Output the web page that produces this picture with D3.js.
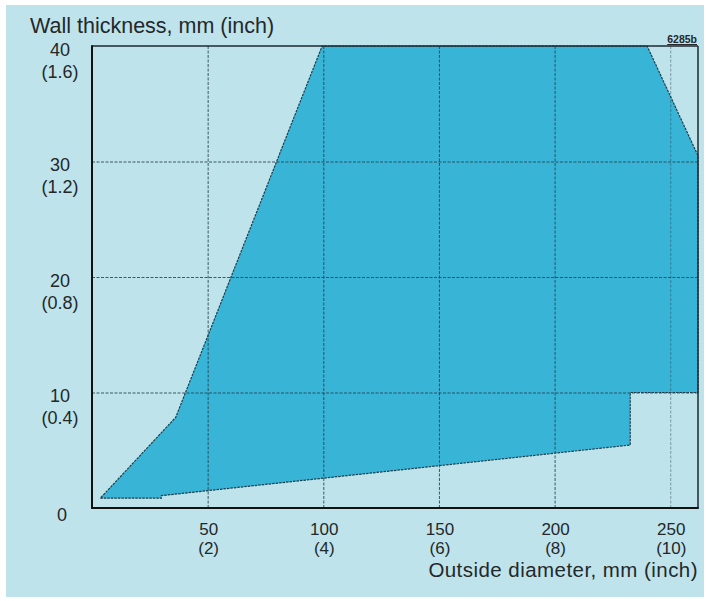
<!DOCTYPE html>
<html>
<head>
<meta charset="utf-8">
<script src="https://cdn.jsdelivr.net/npm/d3@7"></script>
<style>
  html, body { margin: 0; padding: 0; background: #ffffff; }
  svg { display: block; }
  text { font-family: "Liberation Sans", Arial, Helvetica, sans-serif; fill: #23282a; }
</style>
</head>
<body>
<svg id="chart" width="710" height="601"></svg>
<script>
// ---- data ----
const xTicks = [50, 100, 150, 200, 250];
const xTickInch = ["(2)", "(4)", "(6)", "(8)", "(10)"];
const yTicks = [10, 20, 30, 40];
const yTickInch = ["(0.4)", "(0.8)", "(1.2)", "(1.6)"];
// outline of the feasible region: outside diameter (mm) vs wall thickness (mm)
const regionDiameter = [3.6, 30, 30, 232.7, 232.7, 262, 262, 240, 99.5, 36.2];
const regionWall     = [0.85, 0.85, 1.07, 5.45, 10.0, 10.0, 30.5, 40, 40, 7.85];

const xLabel = "Outside diameter, mm (inch)";
const yLabel = "Wall thickness, mm (inch)";
const figCode = "6285b";

// ---- layout ----
const svg = d3.select("#chart");
const L = 92, R = 698, T = 46, B = 508;
const x = d3.scaleLinear().domain([0, 262]).range([L, R]);
const y = d3.scaleLinear().domain([0, 40]).range([B, T]);

// panel
svg.append("rect").attr("x", 6).attr("y", 5).attr("width", 698).attr("height", 592)
  .attr("fill", "#bfe3eb");

// region
const pts = regionDiameter.map((d, i) => [x(d), y(regionWall[i])]);
svg.append("path")
  .attr("d", d3.line()(pts) + "Z")
  .attr("fill", "#38b4d7")
  .attr("stroke", "#1e3f4c")
  .attr("stroke-width", 1.2)
  .attr("stroke-dasharray", "2.5,1");

// grid via axes
const gx = svg.append("g").attr("transform", `translate(0,${B})`)
  .call(d3.axisBottom(x).tickValues(xTicks).tickSize(-(B - T)).tickFormat(""));
gx.select(".domain").remove();
gx.selectAll("line").attr("stroke", "#24414c").attr("stroke-width", 1)
  .attr("stroke-dasharray", "3,1.5").attr("opacity", (d) => d === 250 ? 0.45 : 0.85);

const gy = svg.append("g").attr("transform", `translate(${L},0)`)
  .call(d3.axisLeft(y).tickValues([10, 20, 30]).tickSize(-(R - L)).tickFormat(""));
gy.select(".domain").remove();
gy.selectAll("line").attr("stroke", "#24414c").attr("stroke-width", 1)
  .attr("stroke-dasharray", "3,1.5").attr("opacity", 0.85);

// frame
svg.append("line").attr("x1", L).attr("x2", R).attr("y1", T).attr("y2", T)
  .attr("stroke", "#1c2a30").attr("stroke-width", 1.5);
svg.append("line").attr("x1", R).attr("x2", R).attr("y1", T).attr("y2", B)
  .attr("stroke", "#1c2a30").attr("stroke-width", 1.5);
svg.append("line").attr("x1", L).attr("x2", L).attr("y1", T - 0.75).attr("y2", B + 1)
  .attr("stroke", "#111").attr("stroke-width", 2);
svg.append("line").attr("x1", L - 1).attr("x2", R + 0.75).attr("y1", B).attr("y2", B)
  .attr("stroke", "#111").attr("stroke-width", 2);

// y tick labels
const FSY = 18;
const yl = svg.append("g");
yTicks.forEach((v, i) => {
  yl.append("text").attr("x", 60).attr("y", y(v) + 9.5).attr("text-anchor", "middle")
    .attr("font-size", FSY).text(v);
  yl.append("text").attr("x", 60).attr("y", y(v) + 31.5).attr("text-anchor", "middle")
    .attr("font-size", FSY).text(yTickInch[i]);
});
yl.append("text").attr("x", 62).attr("y", y(0) + 13).attr("text-anchor", "middle")
  .attr("font-size", FSY).text(0);

// x tick labels
const FSX = 17;
const xl = svg.append("g");
xTicks.forEach((v, i) => {
  xl.append("text").attr("x", x(v) + 1).attr("y", 535).attr("text-anchor", "middle")
    .attr("font-size", FSX).text(v);
  xl.append("text").attr("x", x(v) + 1).attr("y", 554).attr("text-anchor", "middle")
    .attr("font-size", FSX).text(xTickInch[i]);
});

// axis titles
svg.append("text").attr("x", 30).attr("y", 33).attr("font-size", 21.5).text(yLabel);
svg.append("text").attr("x", 698).attr("y", 577).attr("text-anchor", "end")
  .attr("font-size", 20.5).attr("letter-spacing", 0.45).text(xLabel);

// figure code
svg.append("text").attr("x", 697).attr("y", 43).attr("text-anchor", "end")
  .attr("font-size", 10.5).attr("font-weight", "bold").attr("text-decoration", "underline")
  .text(figCode);
</script>
</body>
</html>
